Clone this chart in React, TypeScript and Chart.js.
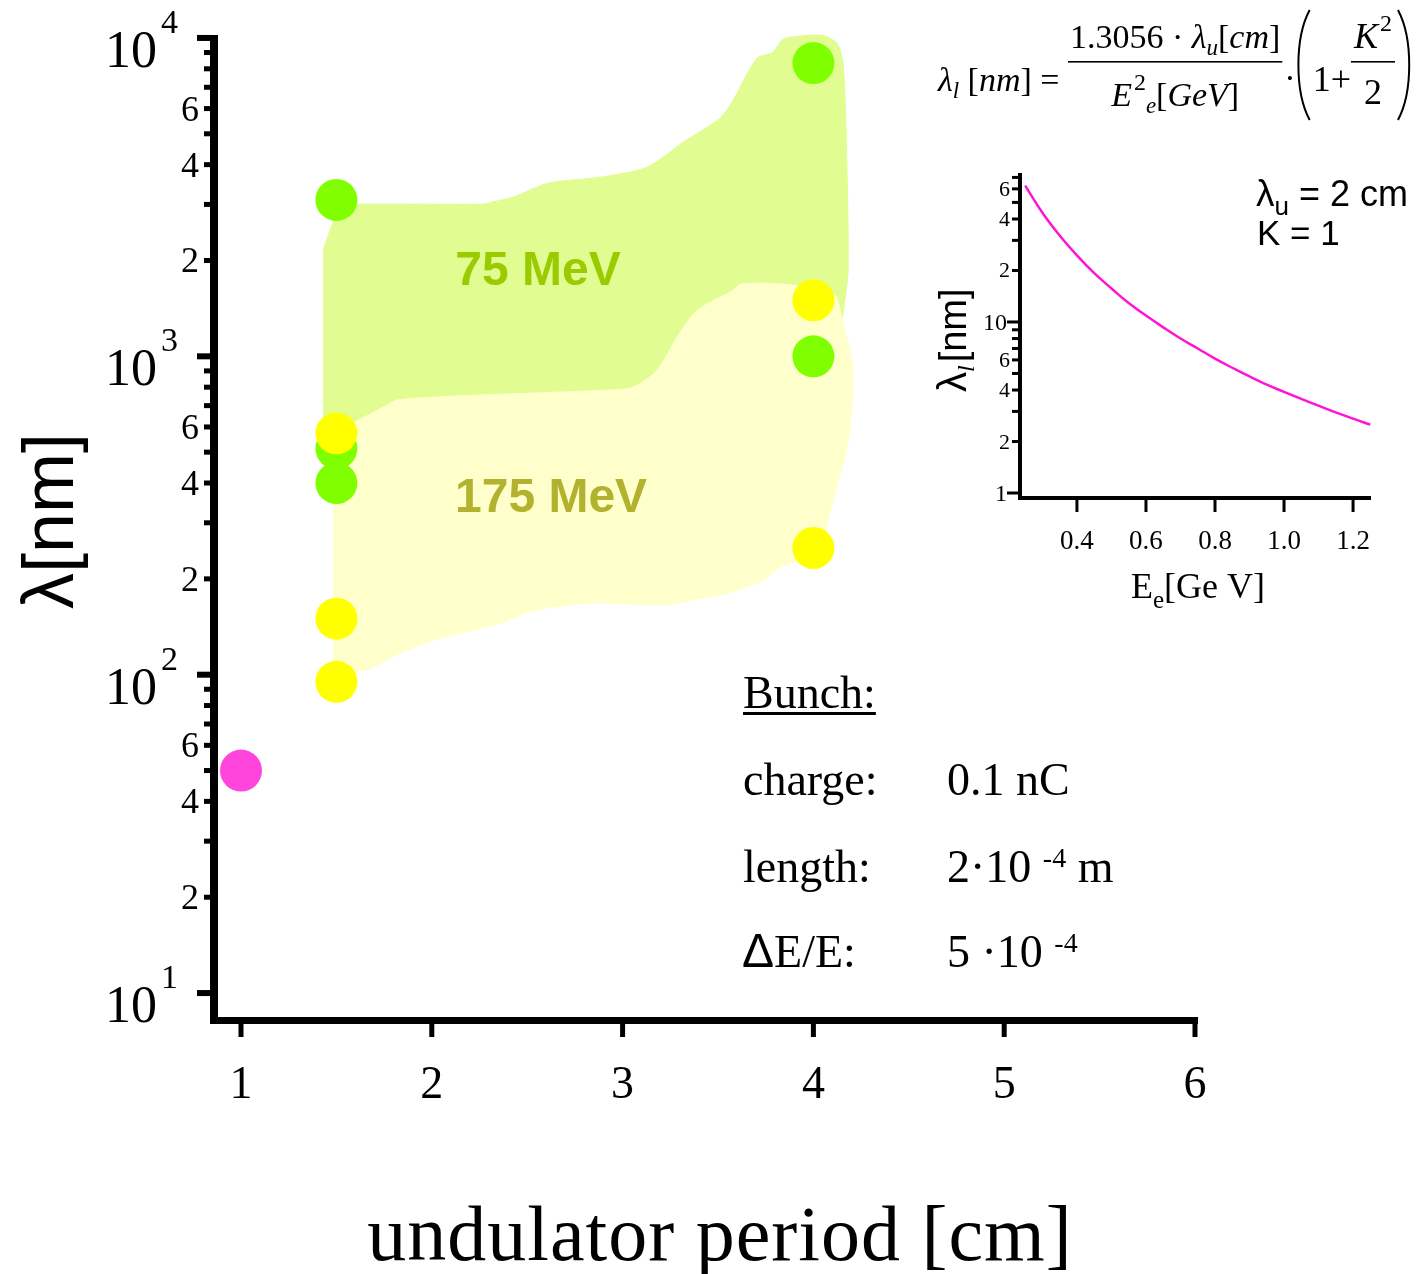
import React, { useEffect, useRef } from "react";
import { Chart, registerables } from "chart.js";

Chart.register(...registerables);

const SERIF = "'Liberation Serif', 'Times New Roman', serif";
const SANS = "'Liberation Sans', Arial, sans-serif";

// ---------------- Main chart: axes ----------------
const xTickValues = [1, 2, 3, 4, 5, 6];
const yDecadeTicks = [10, 100, 1000, 10000];
const yDecadeExponents = ["1", "2", "3", "4"];
const yLabeledTicks = [20, 40, 60, 200, 400, 600, 2000, 4000, 6000];
const yLabeledText = ["2", "4", "6", "2", "4", "6", "2", "4", "6"];
const yMinorTicks = [30, 50, 70, 80, 90, 300, 500, 700, 800, 900, 3000, 5000, 7000, 8000, 9000];

// ---------------- Main chart: points ----------------
const magentaPeriod = [1];
const magentaLambda = [50];
const green75Period = [1.5, 1.5, 1.5, 4, 4];
const green75Lambda = [3100, 514, 400, 8340, 1000];
const yellow175Period = [1.5, 1.5, 1.5, 4, 4];
const yellow175Lambda = [573, 150, 95, 1500, 250];

// ---------------- Main chart: shaded regions (outline) ----------------
const region75Period = [1.43, 1.482, 1.519, 1.613, 2.268, 2.316, 2.426, 2.609, 2.882, 3.128, 3.317, 3.511, 3.579, 3.704, 3.788, 3.835, 3.877, 4.045, 4.124, 4.155, 4.171, 4.182, 4.15, 4.113, 2.882, 1.43];
const region75Lambda = [2153, 2636, 2958, 3006, 3006, 3050, 3163, 3499, 3653, 3925, 4702, 5596, 6373, 8633, 9017, 9838, 10050, 10200, 9620, 8333, 5130, 1862, 1298, 840, 629, 607];
const region175Period = [1.482, 1.545, 1.613, 1.713, 1.833, 2.882, 3.054, 3.18, 3.285, 3.39, 3.579, 3.615, 3.788, 3.966, 4.113, 4.14, 4.202, 4.207, 4.176, 4.103, 4.071, 4.045, 3.877, 3.825, 3.736, 3.547, 3.406, 3.248, 2.845, 2.635, 2.499, 2.373, 2.006, 1.781, 1.692, 1.624, 1.519, 1.482];
const region175Lambda = [586, 607, 629, 677, 732, 782, 800, 904, 1148, 1395, 1612, 1684, 1695, 1647, 1555, 1395, 971, 765, 517, 353, 294, 246, 224, 218, 198, 180, 174, 166, 168, 163, 157, 146, 128, 113, 105, 103, 99.6, 102];

const regionLabels = ["75 MeV", "175 MeV"];
const regionLabelPeriod = [2.557, 2.625];
const regionLabelLambda = [1890, 366];
const regionLabelColors = ["#99cc00", "#b2b22e"];

// ---------------- Inset chart ----------------
const energyGeV = [0.25, 0.3, 0.35, 0.4, 0.45, 0.5, 0.55, 0.6, 0.65, 0.7, 0.75, 0.8, 0.85, 0.9, 0.95, 1.0, 1.05, 1.1, 1.15, 1.2, 1.25];
const lambdaNm = [62.7, 43.5, 32.0, 24.5, 19.3, 15.7, 12.9, 10.9, 9.3, 8.0, 7.0, 6.1, 5.4, 4.8, 4.3, 3.9, 3.55, 3.24, 2.96, 2.72, 2.51];
const insetXTicks = [0.4, 0.6, 0.8, 1.0, 1.2];
const insetXTickText = ["0.4", "0.6", "0.8", "1.0", "1.2"];
const insetYMajor = [1, 10];
const insetYMajorText = ["1", "10"];
const insetYLabeled = [2, 4, 6, 20, 40, 60];
const insetYLabeledText = ["2", "4", "6", "2", "4", "6"];
const insetYMinor = [3, 5, 7, 8, 9, 30, 50, 70];

type Run = { t: string; f: string; dy?: number; dx?: number };
function runsWidth(ctx: CanvasRenderingContext2D, runs: Run[]) {
  let w = 0;
  for (const r of runs) {
    ctx.font = r.f;
    w += ctx.measureText(r.t).width + (r.dx || 0);
  }
  return w;
}
function drawRuns(ctx: CanvasRenderingContext2D, runs: Run[], x: number, y: number) {
  ctx.textAlign = "left";
  for (const r of runs) {
    ctx.font = r.f;
    ctx.fillText(r.t, x, y + (r.dy || 0));
    x += ctx.measureText(r.t).width + (r.dx || 0);
  }
  return x;
}

const mainDecor = {
  id: "mainDecor",
  afterDraw(chart: any) {
    const ctx: CanvasRenderingContext2D = chart.ctx;
    const xs = chart.scales.x;
    const ys = chart.scales.y;
    const { left, right, top, bottom } = chart.chartArea;
    ctx.save();
    ctx.fillStyle = "#000";
    ctx.strokeStyle = "#000";
    ctx.textBaseline = "alphabetic";

    // region labels
    ctx.font = `bold 48px ${SANS}`;
    ctx.textAlign = "center";
    regionLabels.forEach((t, i) => {
      ctx.fillStyle = regionLabelColors[i];
      ctx.fillText(t, xs.getPixelForValue(regionLabelPeriod[i]), ys.getPixelForValue(regionLabelLambda[i]) + 17);
    });
    ctx.fillStyle = "#000";

    // axis lines
    ctx.fillRect(left - 4, top + 1, 8, bottom - top + 3);
    ctx.fillRect(left - 4, bottom - 3, right - left + 5, 7);

    // y ticks
    yDecadeTicks.forEach((v) => {
      const p = ys.getPixelForValue(v);
      ctx.fillRect(left - 17, p - 3, 14, 6);
    });
    [...yLabeledTicks, ...yMinorTicks].forEach((v) => {
      const p = ys.getPixelForValue(v);
      ctx.fillRect(left - 10, p - 2.5, 7, 5);
    });
    // x ticks
    xTickValues.forEach((v) => {
      const p = xs.getPixelForValue(v);
      ctx.fillRect(p - 2.5, bottom, 5, 17);
    });

    // y labels
    yDecadeTicks.forEach((v, i) => {
      const p = ys.getPixelForValue(v);
      ctx.font = `52px ${SERIF}`;
      ctx.textAlign = "right";
      ctx.fillText("10", 157, p + 29);
      ctx.font = `34px ${SERIF}`;
      ctx.textAlign = "left";
      ctx.fillText(yDecadeExponents[i], 161, p - 5);
    });
    ctx.font = `36px ${SERIF}`;
    ctx.textAlign = "right";
    yLabeledTicks.forEach((v, i) => {
      const p = ys.getPixelForValue(v);
      ctx.fillText(yLabeledText[i], 199, p + 12);
    });

    // x labels
    ctx.font = `46px ${SERIF}`;
    ctx.textAlign = "center";
    xTickValues.forEach((v) => ctx.fillText(String(v), xs.getPixelForValue(v), 1098));

    // x title
    ctx.font = `78px ${SERIF}`;
    ctx.textAlign = "center";
    (ctx as any).letterSpacing = "1px";
    ctx.fillText("undulator period [cm]", 720, 1260);
    (ctx as any).letterSpacing = "0px";

    // y title
    ctx.save();
    ctx.translate(73, 521);
    ctx.rotate(-Math.PI / 2);
    ctx.font = `72px ${SANS}`;
    ctx.textAlign = "center";
    ctx.fillText("λ[nm]", 0, 0);
    ctx.restore();

    // Bunch text block
    ctx.font = `46px ${SERIF}`;
    ctx.textAlign = "left";
    ctx.fillText("Bunch:", 743, 708);
    const bw = ctx.measureText("Bunch:").width;
    ctx.fillRect(743, 712, bw, 3);
    ctx.fillText("charge:", 743, 795);
    ctx.fillText("0.1 nC", 947, 795);
    ctx.fillText("length:", 743, 882);
    drawRuns(ctx, [
      { t: "2·10 ", f: `46px ${SERIF}` },
      { t: "-4", f: `28px ${SERIF}`, dy: -15 },
      { t: " m", f: `46px ${SERIF}` },
    ], 947, 882);
    drawRuns(ctx, [
      { t: "Δ", f: `48px ${SANS}` },
      { t: "E/E:", f: `46px ${SERIF}` },
    ], 742, 967);
    drawRuns(ctx, [
      { t: "5 ·10 ", f: `46px ${SERIF}` },
      { t: "-4", f: `28px ${SERIF}`, dy: -15 },
    ], 947, 967);

    // Formula
    const F = 34;
    const up = `${F}px ${SERIF}`;
    const it = `italic ${F}px ${SERIF}`;
    const subIt = `italic ${Math.round(F * 0.68)}px ${SERIF}`;
    const supUp = `${Math.round(F * 0.72)}px ${SERIF}`;
    const base = 91, bar = 62, numBase = 48, denBase = 106;
    let x = 938;
    x = drawRuns(ctx, [
      { t: "λ", f: it },
      { t: "l", f: subIt, dy: 7 },
      { t: " [", f: up },
      { t: "nm", f: it },
      { t: "]", f: up },
      { t: " = ", f: up },
    ], x, base);
    const num: Run[] = [
      { t: "1.3056 · ", f: up },
      { t: "λ", f: it },
      { t: "u", f: subIt, dy: 7 },
      { t: "[", f: up },
      { t: "cm", f: it },
      { t: "]", f: up },
    ];
    const den: Run[] = [
      { t: "E", f: it, dx: 2 },
      { t: "2", f: supUp, dy: -16 },
      { t: "e", f: subIt, dy: 7 },
      { t: "[", f: up },
      { t: "GeV", f: it },
      { t: "]", f: up },
    ];
    const nw = runsWidth(ctx, num);
    const dw = runsWidth(ctx, den);
    const fw = Math.max(nw, dw) + 4;
    ctx.fillRect(x, bar - 1, fw, 1.6);
    drawRuns(ctx, num, x + (fw - nw) / 2, numBase);
    drawRuns(ctx, den, x + (fw - dw) / 2, denBase);
    x += fw + 2;
    x = drawRuns(ctx, [{ t: "·", f: up }], x, base - 2);
    // left paren
    const pTop = 10, pBot = 120;
    ctx.lineWidth = 2;
    ctx.beginPath();
    ctx.moveTo(x + 14, pTop);
    ctx.bezierCurveTo(x - 1, pTop + 28, x - 1, pBot - 28, x + 14, pBot);
    ctx.stroke();
    x += 17;
    x = drawRuns(ctx, [{ t: "1", f: `36px ${SERIF}` }, { t: "+", f: `36px ${SERIF}` }], x, base);
    const kn: Run[] = [{ t: "K", f: `italic 36px ${SERIF}`, dx: 2 }, { t: "2", f: supUp, dy: -17 }];
    const kd: Run[] = [{ t: "2", f: `36px ${SERIF}` }];
    const knw = runsWidth(ctx, kn);
    const kdw = runsWidth(ctx, kd);
    const kw = Math.max(knw, kdw) + 6;
    ctx.fillRect(x, bar - 1, kw, 1.6);
    drawRuns(ctx, kn, x + (kw - knw) / 2, numBase);
    drawRuns(ctx, kd, x + (kw - kdw) / 2, denBase - 2);
    x += kw + 3;
    ctx.beginPath();
    ctx.moveTo(x, pTop);
    ctx.bezierCurveTo(x + 15, pTop + 28, x + 15, pBot - 28, x, pBot);
    ctx.stroke();

    ctx.restore();
  },
};

const insetDecor = {
  id: "insetDecor",
  afterDraw(chart: any) {
    const ctx: CanvasRenderingContext2D = chart.ctx;
    const xs = chart.scales.x;
    const ys = chart.scales.y;
    const { left, right, top, bottom } = chart.chartArea;
    ctx.save();
    ctx.fillStyle = "#000";
    ctx.textBaseline = "alphabetic";
    ctx.fillRect(left - 2, top, 4, bottom - top + 2);
    ctx.fillRect(left - 2, bottom - 2, right - left + 2, 4);
    insetYMajor.forEach((v) => {
      const p = ys.getPixelForValue(v);
      ctx.fillRect(left - 13, p - 1.5, 12, 3);
    });
    [...insetYLabeled, ...insetYMinor].forEach((v) => {
      const p = ys.getPixelForValue(v);
      ctx.fillRect(left - 8, p - 1.5, 7, 3);
    });
    insetXTicks.forEach((v) => {
      const p = xs.getPixelForValue(v);
      ctx.fillRect(p - 1.5, bottom, 3, 14);
    });
    ctx.font = `27px ${SERIF}`;
    ctx.textAlign = "center";
    insetXTicks.forEach((v, i) => ctx.fillText(insetXTickText[i], xs.getPixelForValue(v), 549));
    ctx.textAlign = "right";
    ctx.font = `24px ${SERIF}`;
    insetYMajor.forEach((v, i) => ctx.fillText(insetYMajorText[i], 1007, ys.getPixelForValue(v) + 8));
    ctx.font = `22px ${SERIF}`;
    insetYLabeled.forEach((v, i) => ctx.fillText(insetYLabeledText[i], 1010, ys.getPixelForValue(v) + 7));

    // x title
    drawRuns(ctx, [
      { t: "E", f: `36px ${SERIF}` },
      { t: "e", f: `25px ${SERIF}`, dy: 10 },
      { t: "[Ge V]", f: `36px ${SERIF}` },
    ], 1131, 598);

    // y title (rotated)
    ctx.save();
    ctx.translate(966, 392);
    ctx.rotate(-Math.PI / 2);
    drawRuns(ctx, [
      { t: "λ", f: `40px ${SANS}` },
      { t: "l", f: `italic 24px ${SERIF}`, dy: 8, dx: 3 },
      { t: "[nm]", f: `38px ${SANS}` },
    ], 0, 0);
    ctx.restore();

    // annotation
    drawRuns(ctx, [
      { t: "λ", f: `37px ${SANS}` },
      { t: "u", f: `26px ${SANS}`, dy: 9 },
      { t: " = 2 cm", f: `36px ${SANS}` },
    ], 1256, 206);
    drawRuns(ctx, [{ t: "K = 1", f: `35px ${SANS}` }], 1257, 245);
    ctx.restore();
  },
};

function pts(xs: number[], ys: number[]) {
  return xs.map((x, i) => ({ x, y: ys[i] }));
}

export default function App() {
  const mainRef = useRef<HTMLCanvasElement>(null);
  const insetRef = useRef<HTMLCanvasElement>(null);

  useEffect(() => {
    const main = new Chart(mainRef.current as HTMLCanvasElement, {
      type: "scatter",
      data: {
        datasets: [
          {
            label: "75 MeV region",
            data: pts(region75Period, region75Lambda),
            showLine: true,
            fill: "shape",
            backgroundColor: "#e1fc90",
            borderColor: "#e1fc90",
            borderWidth: 1,
            pointRadius: 0,
            tension: 0.25,
            order: 10,
          } as any,
          {
            label: "175 MeV region",
            data: pts(region175Period, region175Lambda),
            showLine: true,
            fill: "shape",
            backgroundColor: "#ffffcc",
            borderColor: "#ffffcc",
            borderWidth: 1,
            pointRadius: 0,
            tension: 0.25,
            order: 9,
          } as any,
          {
            label: "75 MeV",
            data: pts(green75Period, green75Lambda),
            backgroundColor: "#80ff00",
            borderWidth: 0,
            pointRadius: 21,
            order: 3,
          },
          {
            label: "175 MeV",
            data: pts(yellow175Period, yellow175Lambda),
            backgroundColor: "#ffff00",
            borderWidth: 0,
            pointRadius: 21,
            order: 2,
          },
          {
            label: "other",
            data: pts(magentaPeriod, magentaLambda),
            backgroundColor: "#ff45dc",
            borderWidth: 0,
            pointRadius: 21,
            order: 1,
          },
        ],
      },
      options: {
        responsive: false,
        animation: false,
        devicePixelRatio: 1,
        events: [],
        layout: { padding: { left: 214, right: 225, top: 34, bottom: 254 } },
        scales: {
          x: { type: "linear", min: 0.8585, max: 6.0105, display: false },
          y: { type: "logarithmic", min: 8.23, max: 10290, display: false },
        },
        plugins: { legend: { display: false }, tooltip: { enabled: false } },
      },
      plugins: [mainDecor],
    });

    const inset = new Chart(insetRef.current as HTMLCanvasElement, {
      type: "scatter",
      data: {
        datasets: [
          {
            label: "λl",
            data: pts(energyGeV, lambdaNm),
            showLine: true,
            borderColor: "#ff14d6",
            borderWidth: 2.5,
            pointRadius: 0,
            tension: 0.4,
            fill: false,
          },
        ],
      },
      options: {
        responsive: false,
        animation: false,
        devicePixelRatio: 1,
        events: [],
        layout: { padding: { left: 1020, right: 51, top: 173, bottom: 776 } },
        scales: {
          x: { type: "linear", min: 0.235, max: 1.252, display: false },
          y: { type: "logarithmic", min: 0.935, max: 74.3, display: false },
        },
        plugins: { legend: { display: false }, tooltip: { enabled: false } },
      },
      plugins: [insetDecor],
    });

    return () => {
      main.destroy();
      inset.destroy();
    };
  }, []);

  return (
    <div style={{ position: "absolute", left: 0, top: 0, width: 1422, height: 1274, background: "#fff", overflow: "hidden" }}>
      <canvas ref={mainRef} width={1422} height={1274} style={{ position: "absolute", left: 0, top: 0 }} />
      <canvas ref={insetRef} width={1422} height={1274} style={{ position: "absolute", left: 0, top: 0 }} />
    </div>
  );
}
